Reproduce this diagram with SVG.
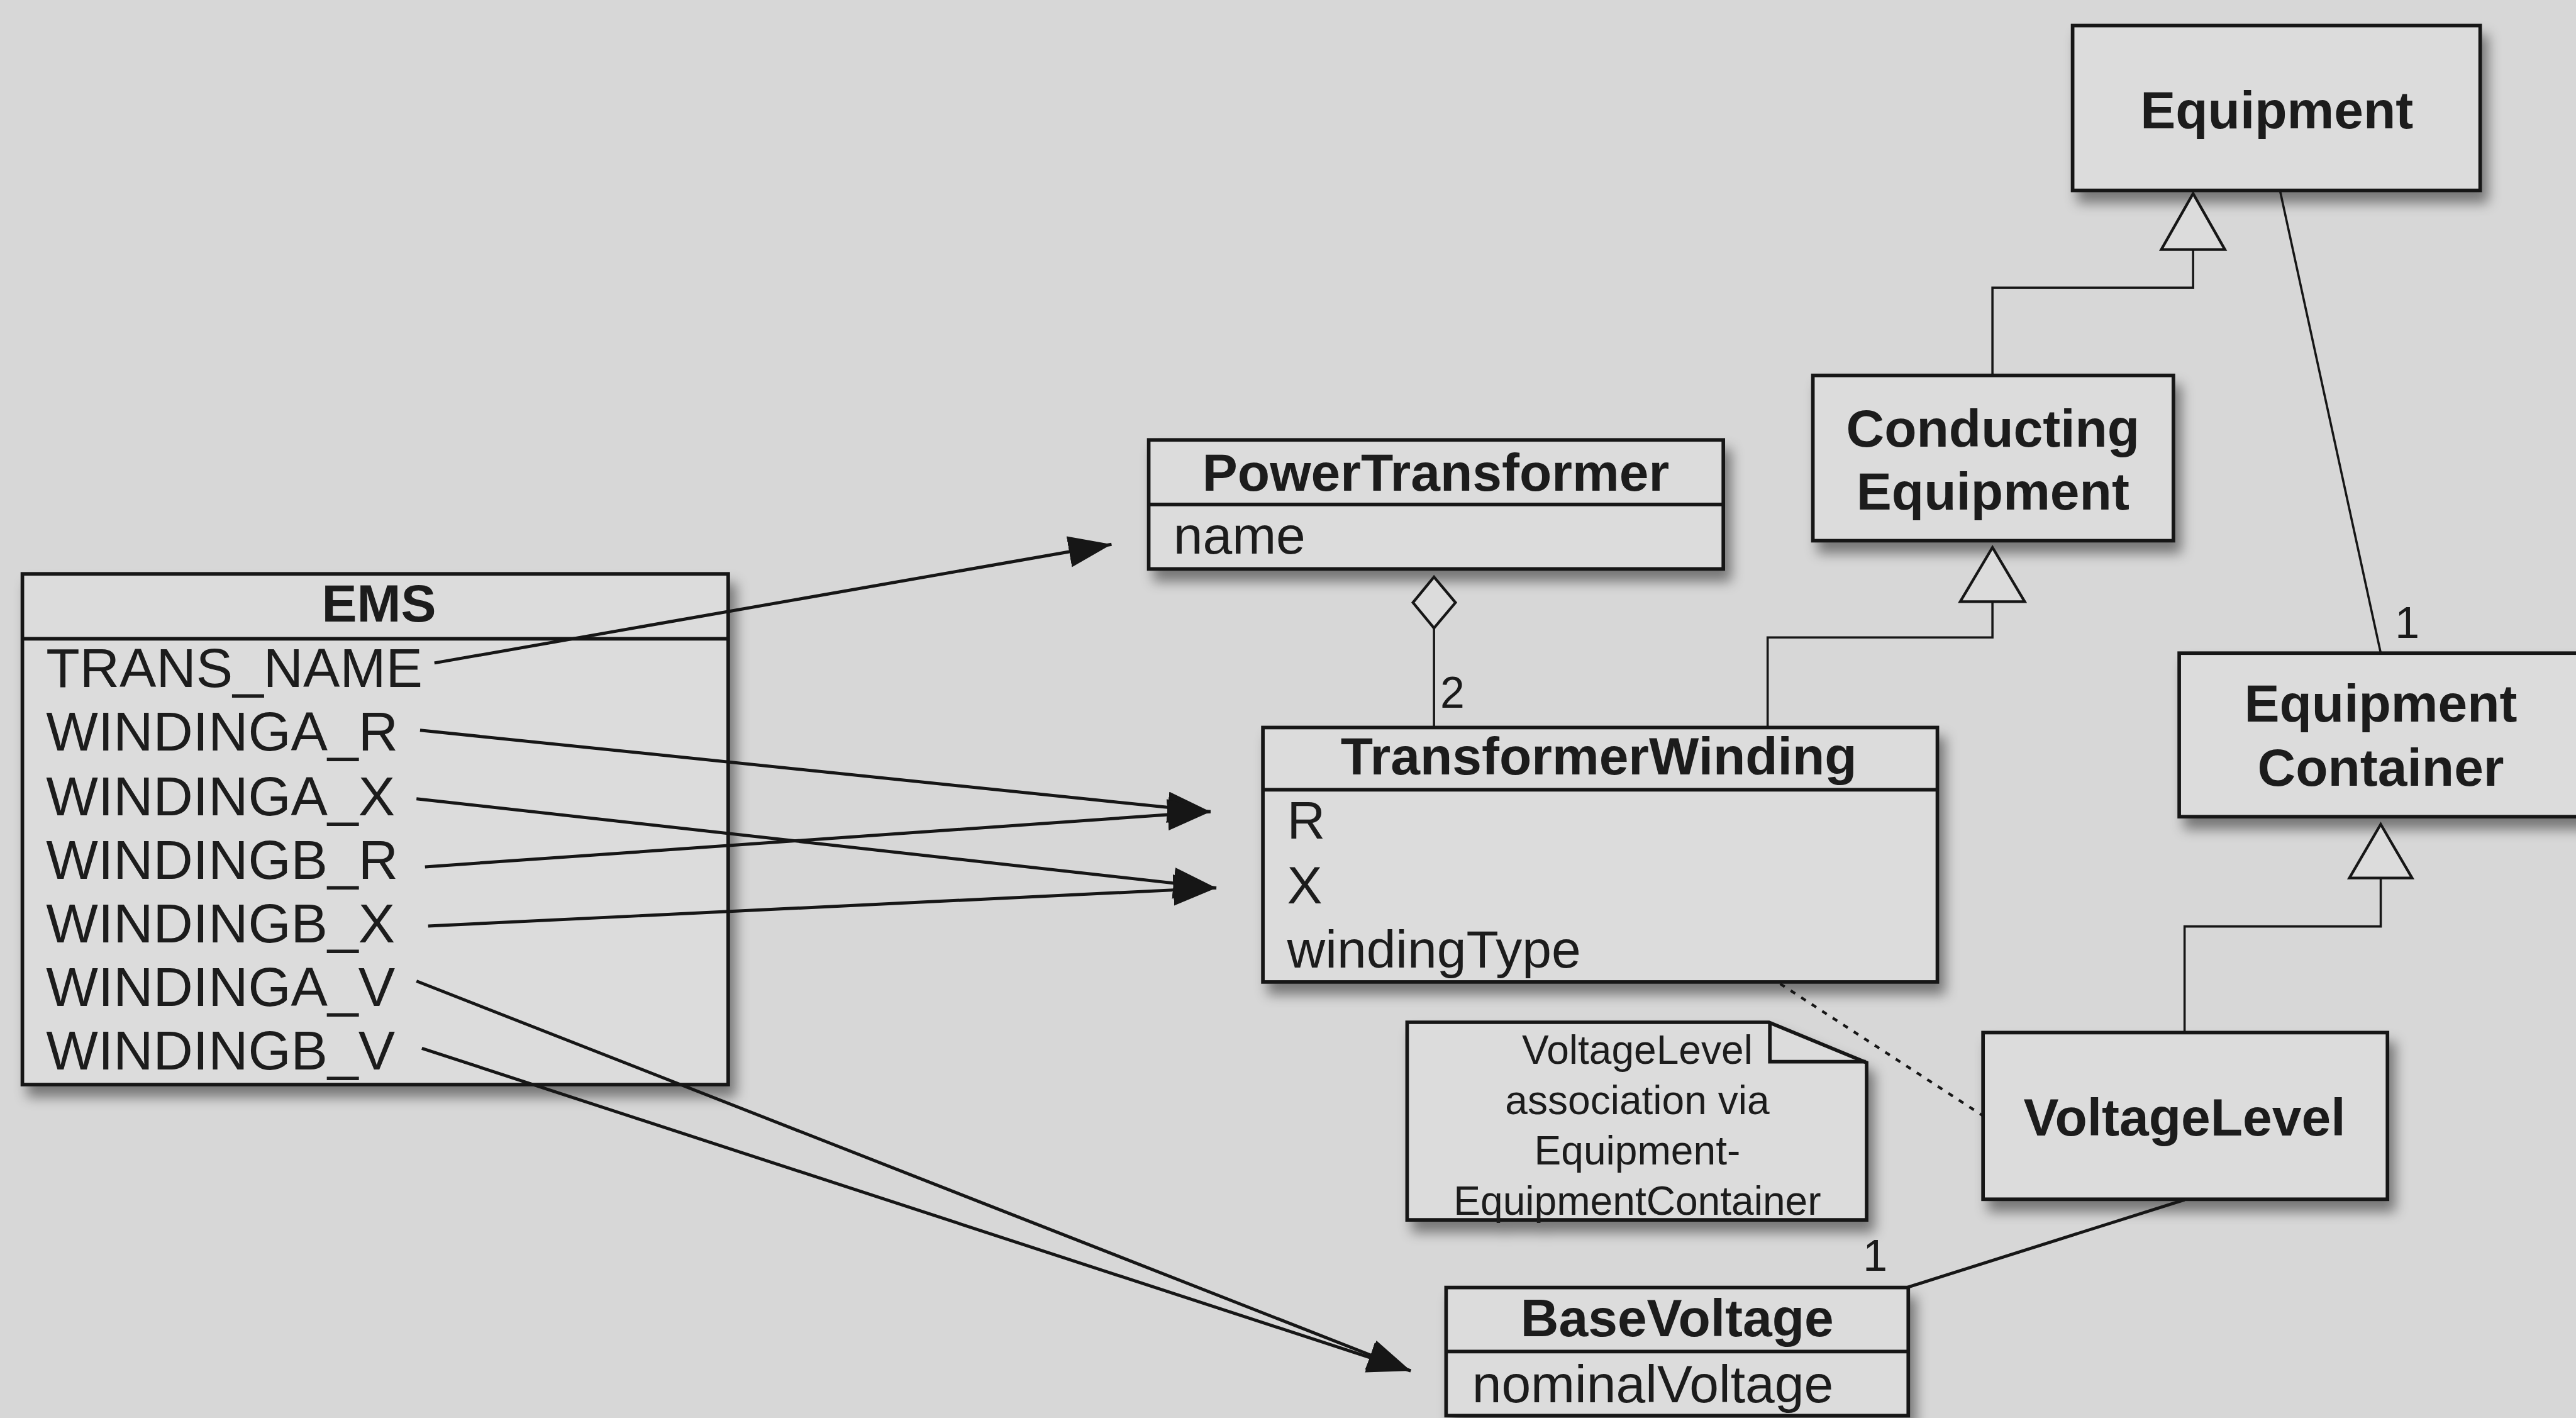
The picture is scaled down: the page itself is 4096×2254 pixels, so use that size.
<svg xmlns="http://www.w3.org/2000/svg" width="4096" height="2254" viewBox="0 0 4096 2254">
  <defs>
    <style>
      .box { fill: #dcdcdc; stroke: #161616; stroke-width: 8; }
      .sep { stroke: #161616; stroke-width: 8; fill: none; }
      .title { font-family: "Liberation Sans", Arial, Helvetica, sans-serif; font-weight: bold; font-size: 118px; fill: #1a1a1a; text-anchor: middle; }
      .attr { font-family: "Liberation Sans", Arial, Helvetica, sans-serif; font-size: 118px; fill: #1a1a1a; }
      .col { font-size: 123px; }
      .note { font-family: "Liberation Sans", Arial, Helvetica, sans-serif; font-size: 90px; fill: #1a1a1a; text-anchor: middle; }
      .mult { font-family: "Liberation Sans", Arial, Helvetica, sans-serif; font-size: 98px; fill: #1a1a1a; }
      .link { stroke: #161616; stroke-width: 7; fill: none; }
      .thin { stroke: #161616; stroke-width: 5; fill: none; }
      .dotted { stroke: #161616; stroke-width: 6; fill: none; stroke-dasharray: 12 16; }
      .hollow { fill: #dcdcdc; stroke: #161616; stroke-width: 6; stroke-linejoin: miter; }
    </style>
    <filter id="shadow" x="-10%" y="-10%" width="130%" height="140%">
      <feDropShadow dx="14" dy="24" stdDeviation="14" flood-color="#000" flood-opacity="0.45"/>
    </filter>
    <marker id="arrow" markerUnits="userSpaceOnUse" markerWidth="100" markerHeight="72" refX="96" refY="35" orient="auto">
      <path d="M0,0 L96,35 L0,70 Z" fill="#161616"/>
    </marker>
  </defs>

  <rect x="0" y="0" width="4096" height="2254" fill="#d7d7d7"/>

  <g transform="scale(0.7121)">
    <!-- nodes -->
    <g id="equipment" filter="url(#shadow)">
      <rect class="box" x="4628" y="57" width="910" height="368"/>
      <text class="title" x="5084" y="287">Equipment</text>
    </g>

    <g id="conducting-equipment" filter="url(#shadow)">
      <rect class="box" x="4048" y="838" width="805" height="369"/>
      <text class="title" x="4450" y="997">Conducting</text>
      <text class="title" x="4450" y="1137">Equipment</text>
    </g>

    <g id="equipment-container" filter="url(#shadow)">
      <rect class="box" x="4866" y="1458" width="960" height="365"/>
      <text class="title" x="5316" y="1611">Equipment</text>
      <text class="title" x="5316" y="1754">Container</text>
    </g>

    <g id="voltage-level" filter="url(#shadow)">
      <rect class="box" x="4428" y="2305" width="903" height="372"/>
      <text class="title" x="4878" y="2535">VoltageLevel</text>
    </g>

    <g id="base-voltage" filter="url(#shadow)">
      <rect class="box" x="3229" y="2874" width="1032" height="286"/>
      <line class="sep" x1="3229" y1="3017" x2="4261" y2="3017"/>
      <text class="title" x="3745" y="2983">BaseVoltage</text>
      <text class="attr" x="3287" y="3130">nominalVoltage</text>
    </g>

    <g id="power-transformer" filter="url(#shadow)">
      <rect class="box" x="2565" y="982" width="1283" height="288"/>
      <line class="sep" x1="2565" y1="1126" x2="3848" y2="1126"/>
      <text class="title" x="3206" y="1095">PowerTransformer</text>
      <text class="attr" x="2620" y="1236">name</text>
    </g>

    <g id="transformer-winding" filter="url(#shadow)">
      <rect class="box" x="2820" y="1624" width="1506" height="568"/>
      <line class="sep" x1="2820" y1="1763" x2="4326" y2="1763"/>
      <text class="title" x="3570" y="1729">TransformerWinding</text>
      <text class="attr" x="2874" y="1872">R</text>
      <text class="attr" x="2874" y="2016">X</text>
      <text class="attr" x="2874" y="2160">windingType</text>
    </g>

    <g id="ems" filter="url(#shadow)">
      <rect class="box" x="50" y="1281" width="1576" height="1140"/>
      <line class="sep" x1="50" y1="1426" x2="1626" y2="1426"/>
      <text class="title" x="846" y="1388">EMS</text>
      <text class="attr col" x="103" y="1533">TRANS_NAME</text>
      <text class="attr col" x="103" y="1676">WINDINGA_R</text>
      <text class="attr col" x="103" y="1820">WINDINGA_X</text>
      <text class="attr col" x="103" y="1962">WINDINGB_R</text>
      <text class="attr col" x="103" y="2104">WINDINGB_X</text>
      <text class="attr col" x="103" y="2245">WINDINGA_V</text>
      <text class="attr col" x="103" y="2388">WINDINGB_V</text>
    </g>

    <g id="note" filter="url(#shadow)">
      <path class="box" stroke-width="6" d="M3142,2282 H3950 L4168,2372 V2723 H3142 Z"/>
      <path class="sep" stroke-width="6" d="M3952,2284 V2370 H4166"/>
      <text class="note" x="3656" y="2374">VoltageLevel</text>
      <text class="note" x="3656" y="2487">association via</text>
      <text class="note" x="3656" y="2600">Equipment-</text>
      <text class="note" x="3656" y="2712">EquipmentContainer</text>
    </g>

    <!-- connectors, drawn over the boxes so the column mappings start at the EMS texts -->
    <g id="connectors">
      <!-- EMS column mappings -->
      <line class="link" x1="970" y1="1480" x2="2482" y2="1215" marker-end="url(#arrow)"/>
      <line class="link" x1="938" y1="1630" x2="2703" y2="1812" marker-end="url(#arrow)"/>
      <line class="link" x1="930" y1="1783" x2="2716" y2="1982" marker-end="url(#arrow)"/>
      <line class="link" x1="949" y1="1935" x2="2703" y2="1812" marker-end="url(#arrow)"/>
      <line class="link" x1="956" y1="2067" x2="2716" y2="1982" marker-end="url(#arrow)"/>
      <line class="link" x1="930" y1="2190" x2="3150" y2="3060" marker-end="url(#arrow)"/>
      <line class="link" x1="942" y1="2340" x2="3150" y2="3060" marker-end="url(#arrow)"/>

      <!-- generalisations -->
      <path class="thin" d="M4449,838 V642 H4897 V557"/>
      <polygon class="hollow" points="4897,432 4968,557 4826,557"/>
      <path class="thin" d="M3947,1624 V1423 H4449 V1343"/>
      <polygon class="hollow" points="4449,1222 4521,1343 4377,1343"/>
      <path class="thin" d="M4878,2305 V2068 H5316 V1960"/>
      <polygon class="hollow" points="5316,1840 5386,1960 5246,1960"/>

      <!-- Equipment to EquipmentContainer association -->
      <line class="thin" x1="5091" y1="425" x2="5316" y2="1458"/>
      <text class="mult" x="5348" y="1424">1</text>

      <!-- PowerTransformer aggregation of windings -->
      <line class="thin" x1="3202" y1="1402" x2="3202" y2="1624"/>
      <polygon class="hollow" points="3202,1288 3250,1345 3202,1402 3155,1345"/>
      <text class="mult" x="3216" y="1580">2</text>

      <!-- VoltageLevel to BaseVoltage association -->
      <line class="link" x1="4878" y1="2678" x2="4258" y2="2874"/>
      <text class="mult" x="4160" y="2836">1</text>

      <!-- note anchor -->
      <line class="dotted" x1="3975" y1="2196" x2="4427" y2="2490"/>
    </g>
  </g>
</svg>
